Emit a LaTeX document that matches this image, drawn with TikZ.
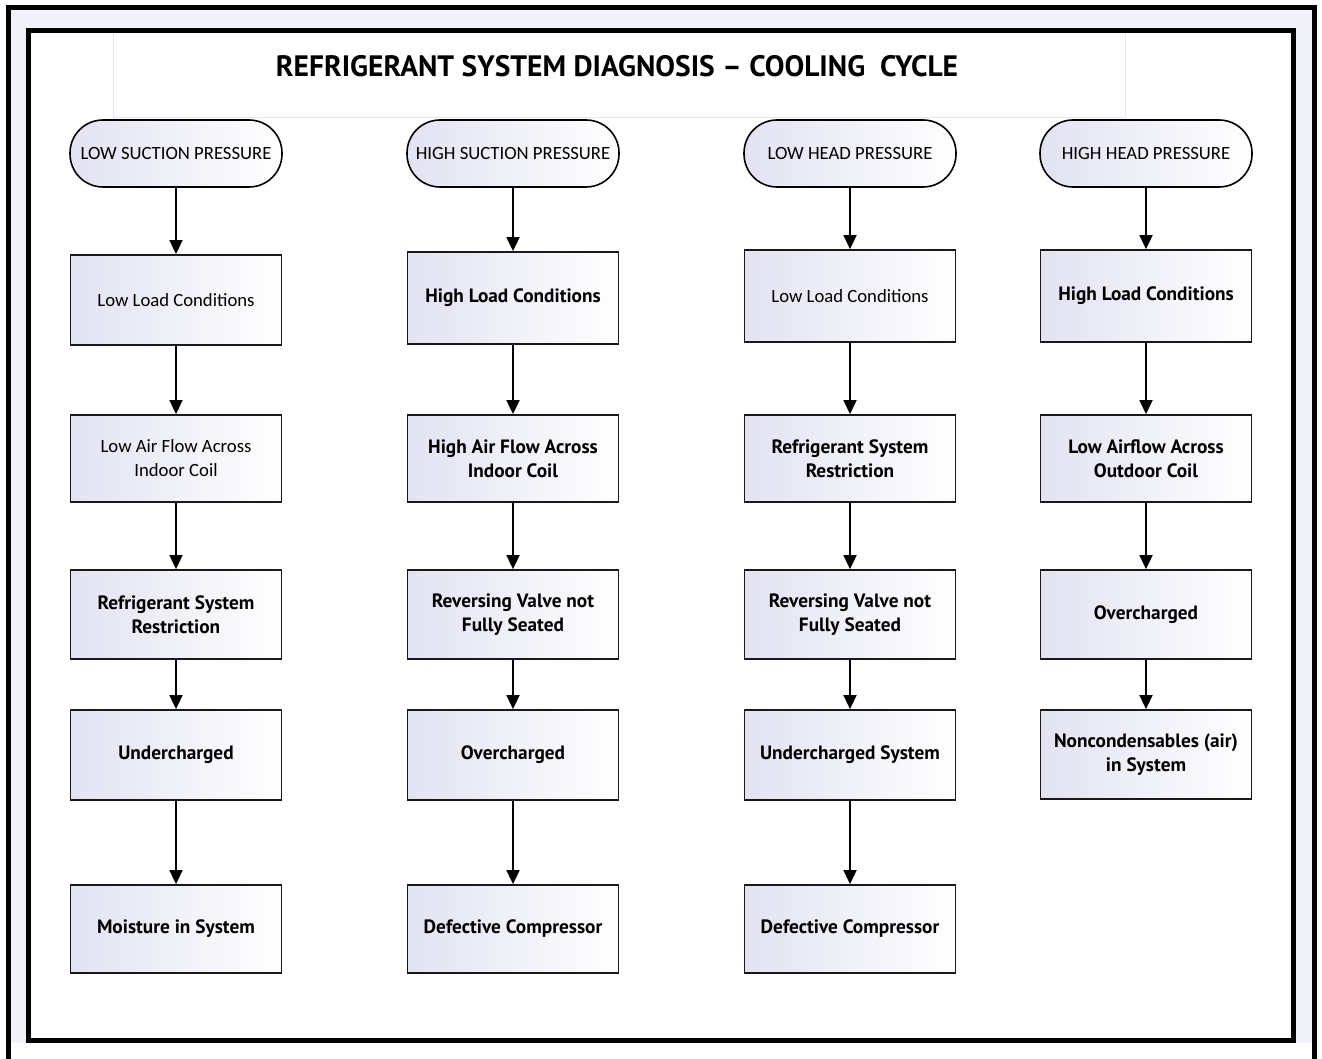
\documentclass[tikz,border=0pt]{standalone}
\usepackage{fontspec}
\setmainfont{Carlito}
\newfontfamily\din{PT Sans}
\usetikzlibrary{arrows.meta}
\definecolor{lav}{HTML}{E2E2F2}
\definecolor{band}{HTML}{F2F2FA}
\definecolor{tline}{HTML}{E6E6F2}
\tikzset{
  pill/.style={draw=black, line width=1.6pt, rounded corners=33pt, minimum width=212pt, minimum height=67pt,
     left color=lav, right color=white, inner sep=0pt, align=center, font=\fontsize{18.7}{22}\selectfont},
  box/.style={draw=black!90, line width=1.8pt, minimum width=211pt, left color=lav, right color=white,
     inner sep=0pt, align=center},
  reg/.style={font=\fontsize{18.7}{24}\selectfont},
  bld/.style={font=\din\bfseries\fontsize{19.3}{24}\selectfont},
  arr/.style={line width=1.8pt, -{Triangle[length=14pt,width=13pt]}}
}
\begin{document}
\begin{tikzpicture}[x=1pt,y=-1pt]
\useasboundingbox (0,0) rectangle (1322,1059);
% frames
\fill[band] (8,7) rectangle (1315,1043);
\draw[line width=5pt] (8.5,1059) -- (8.5,7.5) -- (1314.5,7.5) -- (1314.5,1059);
\draw[line width=5pt, fill=white] (28.5,30.5) rectangle (1293.5,1040.5);
\draw[tline, line width=1pt] (113,33) -- (113,118) -- (1125,118) -- (1125,33);
\node[font=\din\bfseries\fontsize{29.5}{32}\selectfont] (title) at (617,66) {REFRIGERANT SYSTEM DIAGNOSIS – COOLING\ \ CYCLE};

% pills
\node[pill] (p1) at (176,153.5) {LOW SUCTION PRESSURE};
\node[pill] (p2) at (513,153.5) {HIGH SUCTION PRESSURE};
\node[pill] (p3) at (850,153.5) {LOW HEAD PRESSURE};
\node[pill] (p4) at (1146,153.5) {HIGH HEAD PRESSURE};

% column 1
\node[box,reg,minimum height=90pt] (a1) at (176,300) {Low Load Conditions};
\node[box,reg,minimum height=87pt] (a2) at (176,458.5) {Low Air Flow Across\\Indoor Coil};
\node[box,bld,minimum height=89pt] (a3) at (176,614.5) {Refrigerant System\\Restriction};
\node[box,bld,minimum height=90pt] (a4) at (176,755) {Undercharged};
\node[box,bld,minimum height=88pt] (a5) at (176,929) {Moisture in System};
% column 2
\node[box,bld,minimum height=92pt] (b1) at (513,298) {High Load Conditions};
\node[box,bld,minimum height=87pt] (b2) at (513,458.5) {High Air Flow Across\\Indoor Coil};
\node[box,bld,minimum height=89pt] (b3) at (513,614.5) {Reversing Valve not\\Fully Seated};
\node[box,bld,minimum height=90pt] (b4) at (513,755) {Overcharged};
\node[box,bld,minimum height=88pt] (b5) at (513,929) {Defective Compressor};
% column 3
\node[box,reg,minimum height=92pt] (c1) at (850,296) {Low Load Conditions};
\node[box,bld,minimum height=87pt] (c2) at (850,458.5) {Refrigerant System\\Restriction};
\node[box,bld,minimum height=89pt] (c3) at (850,614.5) {Reversing Valve not\\Fully Seated};
\node[box,bld,minimum height=90pt] (c4) at (850,755) {Undercharged System};
\node[box,bld,minimum height=88pt] (c5) at (850,929) {Defective Compressor};
% column 4
\node[box,bld,minimum height=92pt] (d1) at (1146,296) {High Load Conditions};
\node[box,bld,minimum height=87pt] (d2) at (1146,458.5) {Low Airflow Across\\Outdoor Coil};
\node[box,bld,minimum height=89pt] (d3) at (1146,614.5) {Overcharged};
\node[box,bld,minimum height=89pt] (d4) at (1146,754.5) {Noncondensables (air)\\in System};

% arrows
\foreach \u/\v in {p1/a1,a1/a2,a2/a3,a3/a4,a4/a5,
                   p2/b1,b1/b2,b2/b3,b3/b4,b4/b5,
                   p3/c1,c1/c2,c2/c3,c3/c4,c4/c5,
                   p4/d1,d1/d2,d2/d3,d3/d4}
  \draw[arr] (\u.south) -- (\v.north);
\end{tikzpicture}
\end{document}
